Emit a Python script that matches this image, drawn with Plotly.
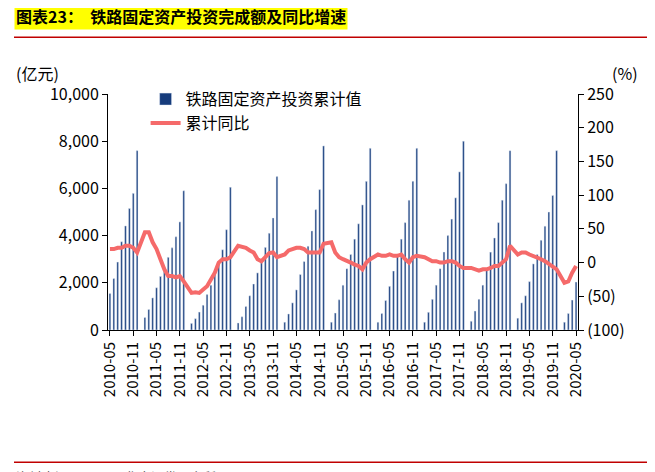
import plotly.graph_objects as go
import pandas as pd

months = pd.date_range("2010-05-01", "2020-05-01", freq="MS").strftime("%Y-%m").tolist()

# cumulative investment (亿元), Jan has no value
inv = {
 2010: [1550, 2180, 2880, 3740, 4410, 5150, 5790, 7600],
 2011: [None, 530, 870, 1360, 1790, 2270, 2650, 3080, 3480, 3950, 4580, 5900],
 2012: [None, 280, 480, 760, 1050, 1500, 1900, 2350, 2850, 3400, 4250, 6050],
 2013: [None, 300, 560, 1000, 1450, 1950, 2420, 2950, 3500, 4100, 4750, 6500],
 2014: [None, 330, 680, 1150, 1700, 2350, 2900, 3550, 4200, 5100, 5950, 7800],
 2015: [None, 330, 720, 1280, 1900, 2600, 3200, 3850, 4500, 5300, 6300, 7700],
 2016: [None, 330, 700, 1250, 1850, 2500, 3200, 3850, 4550, 5500, 6300, 7700],
 2017: [None, 330, 750, 1300, 1900, 2600, 3300, 4000, 4700, 5600, 6700, 8000],
 2018: [None, 370, 800, 1300, 1900, 2600, 3300, 3900, 4550, 5500, 6200, 7600],
 2019: [None, 500, 1150, 1450, 2050, 2800, 3200, 3800, 4400, 5000, 5700, 7600],
 2020: [None, 330, 700, 1270, 2030],
}
yoy = {
 2010: [20, 20, 22, 22, 25, 25, 22, 15],
 2011: [None, 45, 45, 30, 20, 5, -10, -20, -20, -22, -20, -28],
 2012: [None, -45, -44, -45, -40, -35, -25, -15, 0, 5, 5, 8],
 2013: [None, 25, 24, 22, 18, 15, 5, 2, 8, 14, 15, 8],
 2014: [None, 12, 18, 20, 22, 22, 20, 15, 15, 14, 15, 28],
 2015: [None, 30, 15, 8, 5, 3, 0, -3, -5, -10, 0, 5],
 2016: [None, 12, 10, 10, 12, 10, 10, 12, 5, 0, 8, 10],
 2017: [None, 8, 5, 2, 2, 0, 0, 2, 2, 0, -5, -8],
 2018: [None, -8, -10, -12, -10, -10, -8, -5, -5, 0, 5, 25],
 2019: [None, 12, 15, 15, 12, 10, 8, 5, 2, -2, -5, -10],
 2020: [None, -30, -28, -15, -5],
}
bars = [v for y in sorted(inv) for v in inv[y]]
line = [v for y in sorted(yoy) for v in yoy[y]]
ticks = months[::6]

fig = go.Figure()
fig.add_bar(x=months, y=bars, name="铁路固定资产投资累计值", marker_color="#163C7C", width=0.45)
fig.add_scatter(x=months, y=line, name="累计同比", yaxis="y2", mode="lines",
                line=dict(color="#F56A6A", width=4), connectgaps=True)
fig.update_layout(
    width=655, height=472, plot_bgcolor="white", paper_bgcolor="white",
    font=dict(family="Noto Sans CJK SC", size=16, color="black"),
    margin=dict(l=100, r=85, t=86, b=150),
    bargap=0.5, showlegend=True,
    legend=dict(x=0.08, y=1.05, xanchor="left", yanchor="top", bgcolor="rgba(0,0,0,0)",
                font=dict(size=16), tracegroupgap=2),
    xaxis=dict(type="category", tickvals=ticks, ticktext=ticks, tickangle=-90, showline=True,
               linecolor="black", ticks="outside", tickcolor="black", tickfont=dict(size=15)),
    yaxis=dict(range=[0, 10000], dtick=2000, tickformat=",", showgrid=False, showline=True,
               linecolor="black", ticks="outside", tickcolor="black", zeroline=False),
    yaxis2=dict(range=[-100, 250], dtick=50, overlaying="y", side="right", showgrid=False,
                showline=True, linecolor="black", ticks="outside", tickcolor="black",
                tickvals=[-100, -50, 0, 50, 100, 150, 200, 250],
                ticktext=["(100)", "(50)", "0", "50", "100", "150", "200", "250"], zeroline=False),
    annotations=[
        dict(text="(亿元)", xref="paper", yref="paper", x=-0.2, y=1.03, showarrow=False, xanchor="left", yanchor="bottom"),
        dict(text="(%)", xref="paper", yref="paper", x=1.1, y=1.03, showarrow=False, xanchor="center", yanchor="bottom"),
        dict(text="<b>图表23：  铁路固定资产投资完成额及同比增速</b>", xref="paper", yref="paper", x=-0.2, y=1.33,
             showarrow=False, xanchor="left", yanchor="middle", bgcolor="#FFFF00", font=dict(size=16)),
        dict(text="资料来源：Wind，华泰证券研究所", xref="paper", yref="paper", x=-0.2, y=-0.62,
             showarrow=False, xanchor="left", yanchor="middle", font=dict(size=13, color="#555")),
    ],
    shapes=[
        dict(type="line", xref="paper", yref="paper", x0=-0.2, x1=1.25, y0=1.24, y1=1.24, line=dict(color="#C00000", width=1.5)),
        dict(type="line", xref="paper", yref="paper", x0=-0.2, x1=1.25, y0=-0.56, y1=-0.56, line=dict(color="#C00000", width=1.5)),
    ],
)
fig.write_html("out.html")
